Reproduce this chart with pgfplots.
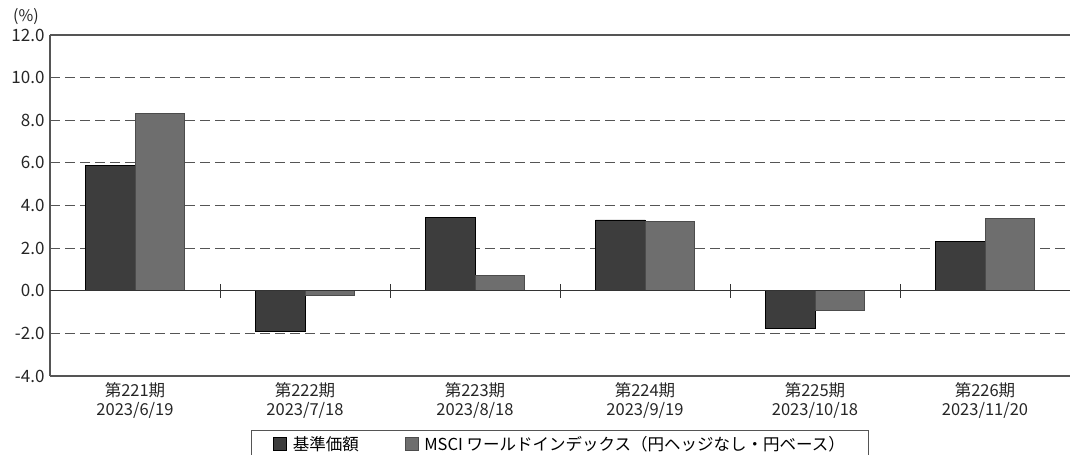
\documentclass[border=0pt]{standalone}
\usepackage{fontspec}
\setmainfont{Noto Sans CJK JP}
\usepackage{pgfplots}
\pgfplotsset{compat=1.18}
\definecolor{darkbar}{HTML}{3D3D3D}
\definecolor{graybar}{HTML}{6E6E6E}
\definecolor{axisgray}{HTML}{555555}

\begin{document}
\begin{tikzpicture}
\begin{axis}[
  width=1020pt, height=341pt, scale only axis,
  axis x line=box, axis y line=left,
  axis line style={axisgray, line width=1.1pt, -},
  xmin=-0.5, xmax=5.5,
  ymin=-4, ymax=12,
  ytick={-4,-2,0,2,4,6,8,10,12},
  xtick={0,1,2,3,4,5},
  xticklabels={{第221期\\2023/6/19},{第222期\\2023/7/18},{第223期\\2023/8/18},{第224期\\2023/9/19},{第225期\\2023/10/18},{第226期\\2023/11/20}},
  xticklabel style={align=center, font=\fontsize{16.5}{19}\selectfont, text=black!85, yshift=-3pt},
  yticklabel style={font=\fontsize{17}{19}\selectfont, text=black!85, xshift=-2pt},
  /pgf/number format/assume math mode=true,
  yticklabel={\pgfmathprintnumber[fixed,fixed zerofill,precision=1]{\tick}},
  major tick length=0pt,
  ymajorgrids=true,
  grid style={axisgray, line width=1.1pt, dash pattern=on 10pt off 5pt},
  ybar=0pt, bar width=0.29,
  legend columns=2,
  legend style={at={(0.5,-0.158)}, anchor=north, draw=axisgray, line width=0.8pt,
    font=\fontsize{16.5}{19}\selectfont, inner xsep=22pt, inner ysep=4pt,
    /tikz/every even column/.append style={column sep=44pt}},
  legend image code/.code={\draw[#1, line width=0.5pt] (0pt,-6pt) rectangle (13pt,7pt); \path (17pt,0pt);},
]
\addplot[fill=darkbar, draw=black, line width=0.6pt] coordinates {
  (0,5.87) (1,-1.88) (2,3.43) (3,3.32) (4,-1.75) (5,2.33)};
\addplot[fill=graybar, draw=black!70, line width=0.6pt] coordinates {
  (0,8.31) (1,-0.23) (2,0.72) (3,3.27) (4,-0.94) (5,3.38)};
\legend{基準価額,MSCI ワールドインデックス（円ヘッジなし・円ベース）}
\draw[black!80, line width=1pt] (axis cs:-0.5,0) -- (axis cs:5.5,0);
\pgfplotsinvokeforeach{0.5,1.5,2.5,3.5,4.5}{
  \draw[black!80, line width=1pt] (axis cs:#1,-0.33) -- (axis cs:#1,0.33);
}
\coordinate (ll) at (rel axis cs:0,0);
\coordinate (ul) at (rel axis cs:0,1);
\coordinate (ur) at (rel axis cs:1,1);
\end{axis}
\node[font=\fontsize{16}{18}\selectfont, text=black!85] at ([xshift=-24pt,yshift=18pt]ul) {(\%)};
\pgfresetboundingbox
\path[use as bounding box] ([xshift=-50pt,yshift=-78pt]ll) rectangle ([yshift=35pt]ur);
\end{tikzpicture}
\end{document}
